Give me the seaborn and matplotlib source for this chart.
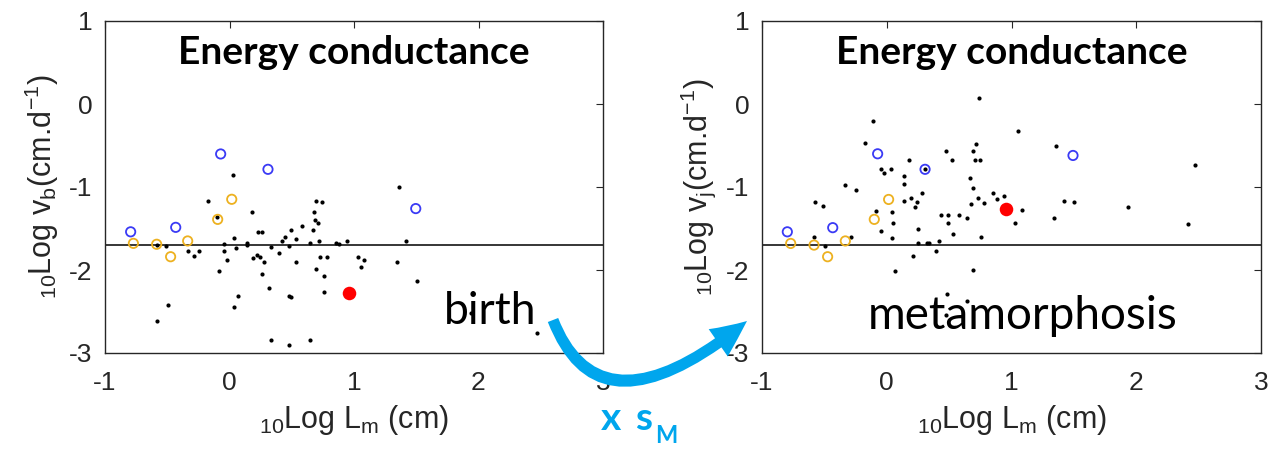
import numpy as np
import pandas as pd
import matplotlib
matplotlib.use("Agg")
import matplotlib.pyplot as plt
import seaborn as sns
from matplotlib.patches import FancyArrowPatch
from matplotlib.path import Path

# ---------------- data ----------------
birth_dots_x = [-0.585, -0.585, -0.497, -0.51, -0.336, -0.285, -0.245, -0.175, -0.103, -0.084,
                -0.044, -0.044, -0.023, 0.031, 0.039, 0.052, 0.039, 0.068, 0.138, 0.143,
                0.178, 0.191, 0.218, 0.226, 0.258, 0.245, 0.28, 0.258, 0.317, 0.331,
                0.331, 0.395, 0.419, 0.443, 0.48, 0.477, 0.49, 0.48, 0.49, 0.532,
                0.532, 0.58, 0.644, 0.644, 0.668, 0.681, 0.695, 0.745, 0.687, 0.708,
                0.716, 0.695, 0.727, 0.78, 0.757, 0.757, 0.853, 0.877, 0.944, 1.032,
                1.06, 1.08, 1.359, 1.42, 1.345, 1.509, 1.937, 2.47]
birth_dots_y = [-2.61, -1.70, -2.42, -1.71, -1.77, -1.83, -1.77, -1.17, -1.36, -2.01,
                -1.69, -1.77, -1.88, -0.86, -1.62, -1.73, -2.44, -2.31, -1.68, -1.70,
                -1.30, -1.86, -1.82, -1.54, -1.54, -1.84, -1.90, -2.05, -2.22, -1.72,
                -2.84, -1.79, -1.65, -1.60, -2.90, -1.71, -1.52, -2.31, -2.32, -1.90,
                -1.63, -1.47, -2.84, -1.68, -1.52, -1.30, -1.165, -1.18, -1.40, -1.43,
                -1.65, -1.99, -1.84, -1.84, -2.07, -2.27, -1.68, -1.69, -1.65, -1.84,
                -1.96, -1.88, -1.00, -1.655, -1.90, -2.13, -2.52, -2.76]

meta_dots_x = [-0.11, -0.172, -0.332, -0.249, -0.572, -0.508, -0.583, -0.498, -0.284, -0.086,
               -0.046, -0.049, -0.02, 0.031, 0.039, 0.053, 0.039, 0.066, 0.178, 0.141,
               0.141, 0.192, 0.141, 0.24, 0.226, 0.28, 0.253, 0.213, 0.253, 0.325,
               0.341, 0.392, 0.419, 0.437, 0.491, 0.478, 0.491, 0.526, 0.528, 0.579,
               0.641, 0.665, 0.689, 0.678, 0.689, 0.689, 0.715, 0.71, 0.747, 0.729,
               0.777, 0.756, 0.742, 0.854, 0.881, 0.942, 1.055, 1.082, 1.028, 0.48,
               0.641, 0.475, 1.354, 1.418, 1.504, 1.343, 1.931, 2.471, 2.418, 0.31]
meta_dots_y = [-0.205, -0.474, -0.976, -1.036, -1.185, -1.225, -1.60, -1.71, -1.60, -1.285,
               -1.526, -0.787, -0.827, -0.787, -1.297, -1.43, -1.618, -2.01, -0.675, -0.867,
               -0.96, -1.129, -1.169, -1.185, -1.245, -1.069, -1.506, -1.827, -1.679, -1.679,
               -1.679, -1.767, -1.65, -1.337, -1.337, -0.562, -1.43, -0.675, -1.566, -1.337,
               -1.377, -0.888, -1.016, -1.205, -2.00, -0.566, -0.486, -0.675, -0.675, -1.129,
               -1.197, -1.60, 0.076, -1.069, -1.149, -1.108, -0.32, -1.277, -1.43, -2.29,
               -2.37, -2.54, -0.506, -1.169, -1.185, -1.37, -1.24, -0.735, -1.45, -0.787]

birth_blue_x = [-0.794, -0.432, -0.071, 0.309, 1.496]
birth_blue_y = [-1.54, -1.486, -0.602, -0.787, -1.26]
meta_blue_x = [-0.797, -0.433, -0.073, 0.307, 1.493]
meta_blue_y = [-1.54, -1.49, -0.60, -0.787, -0.62]

birth_yellow_x = [-0.772, -0.585, -0.473, -0.336, -0.095, 0.018]
birth_yellow_y = [-1.679, -1.69, -1.84, -1.65, -1.39, -1.148]
meta_yellow_x = [-0.77, -0.583, -0.474, -0.332, -0.10, 0.015]
meta_yellow_y = [-1.68, -1.70, -1.84, -1.65, -1.39, -1.15]

birth_red_x = [0.957]
birth_red_y = [-2.277]
meta_red_x = [0.953]
meta_red_y = [-1.265]

ref_level = -1.7
x_ticks = [-1, 0, 1, 2, 3]
y_ticks = [-3, -2, -1, 0, 1]
title_text = "Energy conductance"
xlabel_text = r"$_{10}$Log L$_{\rm m}$ (cm)"
ylabel_birth = r"$_{10}$Log v$_{\rm b}$(cm.d$^{-1}$)"
ylabel_meta = r"$_{10}$Log v$_{\rm j}$(cm.d$^{-1}$)"

# ---------------- style ----------------
sns.set_style("white")
plt.rcParams["font.family"] = ["Liberation Sans", "DejaVu Sans"]
plt.rcParams["mathtext.fontset"] = "custom"
plt.rcParams["mathtext.rm"] = "Liberation Sans"
plt.rcParams["mathtext.it"] = "Liberation Sans:italic"
plt.rcParams["mathtext.default"] = "regular"
plt.rcParams["axes.unicode_minus"] = False

W, H = 1273, 457
fig = plt.figure(figsize=(W / 100, H / 100), dpi=100)
fig.patch.set_facecolor("white")

axc = "#262626"
blue = "#3a3af5"
yellow = "#edb120"
arrow_col = "#00a6ed"


def panel(rect, dx, dy, bx, by, yx, yy, rx, ry, ylabel, tag, tagpos, tagsize):
    ax = fig.add_axes(rect)
    sns.scatterplot(x=dx, y=dy, ax=ax, color="black", s=9, linewidth=0, zorder=3)
    sns.scatterplot(x=bx, y=by, ax=ax, marker="o", s=45, facecolors="none",
                    edgecolor=blue, linewidth=1.3, zorder=4)
    sns.scatterplot(x=yx, y=yy, ax=ax, marker="o", s=45, facecolors="none",
                    edgecolor=yellow, linewidth=1.3, zorder=4)
    sns.scatterplot(x=rx, y=ry, ax=ax, color="red", s=95, linewidth=0, zorder=5)
    ax.axhline(ref_level, color="black", lw=1.1, zorder=2)
    ax.set_xlim(-1, 3)
    ax.set_ylim(-3, 1)
    ax.set_xticks(x_ticks)
    ax.set_yticks(y_ticks)
    ax.tick_params(direction="in", length=5, width=0.8, colors=axc, labelsize=19,
                   top=True, right=True, pad=9)
    ax.tick_params(axis="x", pad=13)
    for s in ax.spines.values():
        s.set_color(axc)
        s.set_linewidth(1.0)
    ax.set_xlabel(xlabel_text, fontsize=22, color=axc, labelpad=6)
    ax.set_ylabel(ylabel, fontsize=22, color=axc, labelpad=6)
    ax.text(0.5, 0.905, title_text, transform=ax.transAxes, ha="center", va="center",
            fontsize=28, fontweight="bold", family="Lato", color="black")
    ax.text(tagpos[0], tagpos[1], tag, transform=ax.transAxes, ha="center", va="center",
            fontsize=tagsize, family="Lato", color="black")
    return ax


axL = panel([105 / W, 104 / H, 498 / W, 332 / H],
            birth_dots_x, birth_dots_y, birth_blue_x, birth_blue_y,
            birth_yellow_x, birth_yellow_y, birth_red_x, birth_red_y,
            ylabel_birth, "birth", (0.773, 0.125), 32)
axR = panel([762 / W, 104 / H, 499 / W, 332 / H],
            meta_dots_x, meta_dots_y, meta_blue_x, meta_blue_y,
            meta_yellow_x, meta_yellow_y, meta_red_x, meta_red_y,
            ylabel_meta, "metamorphosis", (0.523, 0.11), 33)

# ---------------- curved arrow ----------------
P0 = (553 / W, 137 / H)
C = (600 / W, 16 / H)
P2 = (747 / W, 136 / H)
path = Path([P0, C, P2], [Path.MOVETO, Path.CURVE3, Path.CURVE3])
arr = FancyArrowPatch(path=path, transform=fig.transFigure,
                      arrowstyle="simple,head_length=1.3,head_width=1.2,tail_width=0.4",
                      mutation_scale=20, color=arrow_col, lw=0, zorder=20)
fig.add_artist(arr)

fig.text(601 / W, 27 / H, "x", fontsize=28, fontweight="bold", family="Lato",
         color=arrow_col, ha="left", va="baseline")
fig.text(635 / W, 27 / H, "s", fontsize=28, fontweight="bold", family="Lato",
         color=arrow_col, ha="left", va="baseline")
fig.text(655 / W, 14 / H, "M", fontsize=17, fontweight="bold", family="Lato",
         color=arrow_col, ha="left", va="baseline")

fig.savefig("out.png", dpi=100)
